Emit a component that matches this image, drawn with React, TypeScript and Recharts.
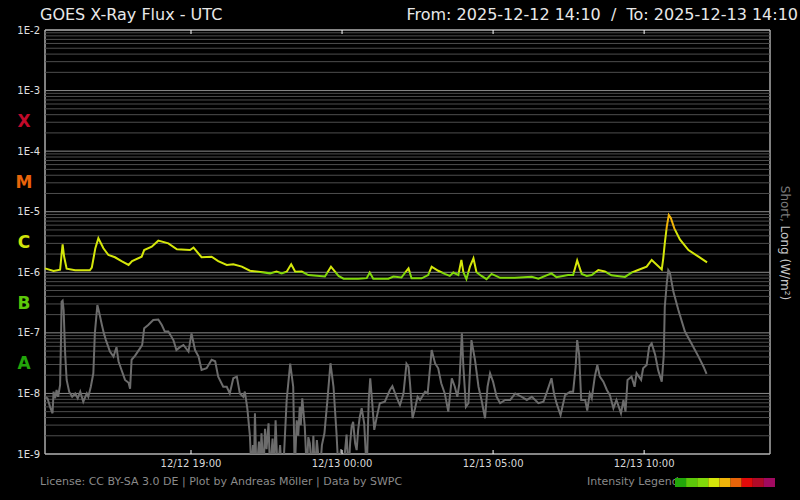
import { LineChart, Line, XAxis, YAxis, ReferenceLine, ReferenceArea } from "recharts";

// minutes after 2025-12-12 14:10 UTC
const longMinutes = [
  0, 17, 30, 33, 35, 38, 43, 60, 89, 93,
  100, 106, 116, 126, 139, 152, 166, 173, 192, 197,
  212, 225, 245, 262, 288, 295, 311, 331, 344, 361,
  374, 391, 407, 424, 447, 460, 470, 480, 489, 497,
  510, 523, 556, 568, 583, 593, 622, 639, 645, 652,
  682, 692, 708, 718, 722, 728, 748, 761, 768, 781,
  794, 804, 811, 821, 827, 831, 837, 844, 851, 857,
  867, 877, 887, 904, 933, 967, 980, 1006, 1016, 1039,
  1049, 1057, 1066, 1076, 1086, 1099, 1112, 1125, 1152, 1165,
  1178, 1195, 1205, 1225, 1228, 1231, 1235, 1239, 1243, 1250,
  1261, 1278, 1298, 1315,
];
const longFlux = [
  1.16e-6, 1.05e-6, 1.1e-6, 2.0e-6, 2.9e-6, 1.8e-6, 1.15e-6, 1.08e-6, 1.08e-6, 1.2e-6,
  2.5e-6, 3.64e-6, 2.49e-6, 1.93e-6, 1.77e-6, 1.53e-6, 1.32e-6, 1.53e-6, 1.81e-6, 2.33e-6,
  2.65e-6, 3.33e-6, 3.0e-6, 2.39e-6, 2.33e-6, 2.55e-6, 1.77e-6, 1.81e-6, 1.53e-6, 1.32e-6,
  1.36e-6, 1.24e-6, 1.06e-6, 1.02e-6, 9.6e-7, 1.03e-6, 9.6e-7, 1.02e-6, 1.36e-6, 1.02e-6,
  1.03e-6, 9.0e-7, 8.5e-7, 1.24e-6, 8.7e-7, 7.85e-7, 7.85e-7, 8.0e-7, 9.9e-7, 7.85e-7,
  7.85e-7, 8.5e-7, 8.2e-7, 1.06e-6, 1.16e-6, 7.95e-7, 7.95e-7, 9.0e-7, 1.24e-6, 1.06e-6,
  9.4e-7, 8.7e-7, 9.9e-7, 9.0e-7, 1.6e-6, 1.0e-6, 7.7e-7, 1.24e-6, 1.7e-6, 1.0e-6,
  8.7e-7, 7.7e-7, 9.4e-7, 8.1e-7, 8.1e-7, 8.4e-7, 7.85e-7, 9.6e-7, 8.3e-7, 9.0e-7,
  9.0e-7, 1.57e-6, 9.4e-7, 8.7e-7, 9.0e-7, 1.09e-6, 1.03e-6, 8.9e-7, 8.4e-7, 9.9e-7,
  1.09e-6, 1.24e-6, 1.6e-6, 1.11e-6, 1.7e-6, 3.0e-6, 5.66e-6, 8.8e-6, 7.9e-6, 5.3e-6,
  3.5e-6, 2.33e-6, 1.81e-6, 1.46e-6,
];

const shortMinutes = [
  0, 5, 10, 15, 17, 20, 23, 26, 30, 32,
  33, 35, 37, 40, 43, 48, 54, 60, 65, 70,
  76, 83, 86, 91, 96, 99, 104, 108, 113, 117,
  121, 129, 136, 142, 146, 152, 159, 166, 169, 172,
  179, 189, 193, 197, 205, 215, 225, 232, 238, 245,
  255, 261, 268, 275, 285, 291, 298, 305, 311, 321,
  331, 338, 344, 354, 361, 367, 374, 381, 387, 394,
  397, 402, 407, 410, 413, 415, 417, 420, 425, 427,
  430, 434, 437, 440, 444, 447, 452, 455, 458, 462,
  467, 470, 473, 480, 487, 493, 496, 500, 503, 506,
  508, 511, 516, 520, 523, 526, 530, 533, 536, 540,
  546, 550, 555, 561, 567, 573, 579, 583, 588, 592,
  599, 603, 606, 609, 612, 616, 619, 622, 625, 629,
  634, 639, 643, 646, 650, 654, 659, 665, 675, 685,
  690,
  698, 705, 712, 718, 722, 725, 730, 735, 740, 745,
  749, 755, 760, 765, 768, 775, 781, 787, 794, 801,
  808, 814, 819, 823, 828, 831, 836, 841, 847, 854,
  861, 867, 874, 879, 884, 890, 897, 904, 914, 924,
  934, 947, 957, 967, 980, 990, 996, 1006, 1011, 1016,
  1024, 1033, 1043, 1049, 1054, 1057, 1061, 1065, 1073, 1077,
  1082, 1086, 1092, 1097, 1102, 1109, 1116, 1122, 1129, 1135,
  1144, 1149, 1153, 1157, 1165, 1171, 1175, 1184, 1188, 1195,
  1200, 1205, 1212, 1218, 1225, 1229, 1231, 1235, 1238, 1241,
  1248, 1258, 1271, 1284, 1298, 1308, 1314,
];
// 5e-10 = below the plot floor
const shortFlux = [
  8.8e-9, 8.3e-9, 6.0e-9, 4.7e-9, 1.07e-8, 8.3e-9, 1.14e-8, 8.8e-9, 1.38e-8, 9.8e-8,
  3.27e-7, 3.4e-7, 2.4e-7, 4.6e-8, 1.67e-8, 1.07e-8, 8.8e-9, 1.0e-8, 8.3e-9, 1.07e-8,
  7.3e-9, 1.0e-8, 8.8e-9, 1.29e-8, 2.15e-8, 9.8e-8, 2.88e-7, 2.1e-7, 1.35e-7, 9.8e-8,
  7.6e-8, 4.9e-8, 4.05e-8, 5.8e-8, 3.4e-8, 2.44e-8, 1.67e-8, 1.5e-8, 1.2e-8, 3.6e-8,
  4.2e-8, 5.6e-8, 6.3e-8, 1.19e-7, 1.35e-7, 1.63e-7, 1.66e-7, 1.35e-7, 1.05e-7, 1.05e-7,
  7.6e-8, 5.2e-8, 5.8e-8, 6.3e-8, 4.9e-8, 9.8e-8, 5.2e-8, 4.05e-8, 2.44e-8, 2.6e-8,
  3.6e-8, 3.4e-8, 1.89e-8, 1.29e-8, 1.29e-8, 1.0e-8, 1.78e-8, 1.89e-8, 1.0e-8, 8.8e-9,
  1.07e-8, 5.5e-9, 2.0e-9, 5e-10, 1.4e-9, 5e-10, 4.7e-9, 5e-10, 1.6e-9, 5e-10,
  2.2e-9, 5e-10, 2.6e-9, 1.2e-9, 3.2e-9, 5e-10, 1.8e-9, 5e-10, 3.6e-9, 5e-10,
  1.4e-9, 5e-10, 5e-10, 7.8e-9, 3.1e-8, 1.29e-8, 5e-10, 3.6e-9, 2.0e-9, 6.0e-9,
  3.0e-9, 8.3e-9, 2.8e-9, 5e-10, 1.9e-9, 1.5e-9, 5e-10, 2.0e-9, 5e-10, 1.7e-9,
  5e-10, 1.4e-9, 2.2e-9, 7.8e-9, 3.15e-8, 1.29e-8, 2.2e-9, 5e-10, 1.2e-9, 5e-10,
  2.1e-9, 5e-10, 1.5e-9, 2.8e-9, 3.4e-9, 1.5e-9, 1.16e-9, 2.5e-9, 4.0e-9, 5.7e-9,
  3.2e-9, 5e-10, 7.8e-9, 1.78e-8, 6.9e-9, 2.5e-9, 4.1e-9, 6.9e-9, 7.3e-9, 1.14e-8,
  1.32e-8,
  8.8e-9, 6.4e-9, 1.0e-8, 3.1e-8, 2.76e-8, 1.47e-8, 3.9e-9, 5.7e-9, 8.8e-9, 7.8e-9,
  8.8e-9, 1.07e-8, 1.0e-8, 2.76e-8, 5.2e-8, 3.1e-8, 2.6e-8, 1.47e-8, 1.0e-8, 5.0e-9,
  1.78e-8, 1.29e-8, 8.8e-9, 1.47e-8, 9.8e-8, 2.76e-8, 6.0e-9, 6.9e-9, 7.6e-8, 3.6e-8,
  1.29e-8, 7.8e-9, 3.9e-9, 1.29e-8, 2.15e-8, 1.56e-8, 8.8e-9, 6.9e-9, 7.8e-9, 7.8e-9,
  1.0e-8, 8.8e-9, 7.8e-9, 8.8e-9, 6.9e-9, 7.3e-9, 1.0e-8, 1.78e-8, 1.0e-8, 6.9e-9,
  4.4e-9, 9.4e-9, 1.07e-8, 1.07e-8, 2.76e-8, 7.6e-8, 4.3e-8, 7.8e-9, 7.8e-9, 5.2e-9,
  1.0e-8, 8.3e-9, 1.89e-8, 2.94e-8, 1.89e-8, 1.56e-8, 1.14e-8, 9.4e-9, 5.7e-9, 7.8e-9,
  4.7e-9, 7.8e-9, 5.0e-9, 1.67e-8, 1.89e-8, 1.29e-8, 2.15e-8, 1.67e-8, 2.6e-8, 2.94e-8,
  5.9e-8, 6.7e-8, 4.3e-8, 2.4e-8, 1.56e-8, 4.3e-8, 2.7e-7, 6.6e-7, 1.09e-6, 1.0e-6,
  4.8e-7, 2.38e-7, 1.05e-7, 6.7e-8, 4.05e-8, 2.76e-8, 2.1e-8,
];

const timeTicks = [290, 590, 890, 1190];
const timeTickLabels = ["12/12 19:00", "12/13 00:00", "12/13 05:00", "12/13 10:00"];

const decadeTicks = [1e-2, 1e-3, 1e-4, 1e-5, 1e-6, 1e-7, 1e-8, 1e-9];
const decadeLabels = ["1E-2", "1E-3", "1E-4", "1E-5", "1E-6", "1E-7", "1E-8", "1E-9"];

const flareClasses = ["X", "M", "C", "B", "A"];
const flareClassMid = [3.162e-4, 3.162e-5, 3.162e-6, 3.162e-7, 3.162e-8];
const flareClassColors = ["#c20a2a", "#e8640a", "#d2e40a", "#5cc80a", "#22a60a"];

const intensityColors = [
  "#22a60a", "#5cc80a", "#80d80a", "#d4e60a", "#f0b40a",
  "#e8640a", "#e00a0a", "#b00a28", "#a00a60",
];

const W = 800;
const H = 500;
const PLOT_TOP = 30;
const PLOT_BOTTOM = 454;
const Y_MIN = 1e-9;
const Y_MAX = 1e-2;
const FONT = "'DejaVu Sans', sans-serif";

const longData = longMinutes.map((t, i) => ({ t, v: longFlux[i] }));
const shortData = shortMinutes.map((t, i) => ({ t, v: shortFlux[i] }));

// horizontal grid: every 1..9 x 10^n
const gridValues: { v: number; major: boolean }[] = [];
for (let e = -9; e <= -3; e++) {
  for (let k = 1; k <= 9; k++) gridValues.push({ v: k * Math.pow(10, e), major: k === 1 });
}
gridValues.push({ v: 1e-2, major: true });

// offset of a flux level inside the plot (0 = top, 1 = bottom)
const frac = (v: number) =>
  (Math.log10(Y_MAX) - Math.log10(v)) / (Math.log10(Y_MAX) - Math.log10(Y_MIN));

const gradStops = [
  { from: 0, to: frac(1e-5), color: "#e8640a" },
  { from: frac(1e-5), to: frac(5e-6), color: "#f0b40a" },
  { from: frac(5e-6), to: frac(1e-6), color: "#d4e60a" },
  { from: frac(1e-6), to: frac(5e-7), color: "#80d80a" },
  { from: frac(5e-7), to: 1, color: "#5cc80a" },
];

function YTick(props: any) {
  const { y, payload } = props;
  const di = decadeTicks.indexOf(payload.value);
  if (di >= 0) {
    return (
      <text x={40} y={y} dy="0.36em" textAnchor="end" fill="#e0e0e0" fontSize={10} fontFamily={FONT}>
        {decadeLabels[di]}
      </text>
    );
  }
  const ci = flareClassMid.indexOf(payload.value);
  return (
    <text x={24} y={y} dy="0.36em" textAnchor="middle" fill={flareClassColors[ci]} fontSize={17} fontWeight="bold" fontFamily={FONT}>
      {flareClasses[ci]}
    </text>
  );
}

function XTick(props: any) {
  const { x, payload } = props;
  const i = timeTicks.indexOf(payload.value);
  return (
    <g>
      <line x1={x} x2={x} y1={PLOT_BOTTOM - 4} y2={PLOT_BOTTOM} stroke="#fff" />
      <line x1={x} x2={x} y1={PLOT_TOP} y2={PLOT_TOP + 4} stroke="#fff" />
      <text x={x} y={PLOT_BOTTOM + 12.5} textAnchor="middle" fill="#d8d8d8" fontSize={10} fontFamily={FONT}>
        {timeTickLabels[i]}
      </text>
    </g>
  );
}

export default function App() {
  return (
    <div style={{ position: "absolute", left: 0, top: 0, width: W, height: H, background: "#000", overflow: "hidden" }}>
      <LineChart width={W} height={H} margin={{ top: PLOT_TOP, right: 30, bottom: 0, left: 0 }}>
        <defs>
          <linearGradient id="longGrad" gradientUnits="userSpaceOnUse" x1={0} y1={PLOT_TOP} x2={0} y2={PLOT_BOTTOM}>
            {gradStops.flatMap((s, i) => [
              <stop key={`a${i}`} offset={s.from} stopColor={s.color} />,
              <stop key={`b${i}`} offset={s.to} stopColor={s.color} />,
            ])}
          </linearGradient>
        </defs>
        <XAxis
          dataKey="t"
          type="number"
          domain={[0, 1440]}
          ticks={timeTicks}
          interval={0}
          height={46}
          axisLine={false}
          tickLine={false}
          tick={<XTick />}
        />
        <YAxis
          scale="log"
          domain={[Y_MIN, Y_MAX]}
          allowDataOverflow
          ticks={[...decadeTicks, ...flareClassMid]}
          interval={0}
          width={45}
          axisLine={false}
          tickLine={false}
          tick={<YTick />}
        />
        {gridValues.map((g) => (
          <ReferenceLine key={g.v} y={g.v} stroke={g.major ? "#8c8c8c" : "#4e4e4e"} strokeWidth={1} />
        ))}
        <ReferenceArea x1={0} x2={1440} y1={Y_MIN} y2={Y_MAX} fill="none" stroke="#ffffff" strokeWidth={1} />
        <Line
          data={shortData}
          dataKey="v"
          type="linear"
          stroke="#6c6c6c"
          strokeWidth={2}
          dot={false}
          isAnimationActive={false}
        />
        <Line
          data={longData}
          dataKey="v"
          type="linear"
          stroke="url(#longGrad)"
          strokeWidth={2}
          dot={false}
          isAnimationActive={false}
        />
      </LineChart>
      <svg width={W} height={H} style={{ position: "absolute", left: 0, top: 0, pointerEvents: "none" }}>
        <text x={40} y={20} fill="#e8e8e8" fontSize={16} fontFamily={FONT}>
          GOES X-Ray Flux - UTC
        </text>
        <text x={798} y={20} textAnchor="end" fill="#e8e8e8" fontSize={16} fontFamily={FONT} style={{ whiteSpace: "pre" }}>
          From: 2025-12-12 14:10  /  To: 2025-12-13 14:10
        </text>
        <text transform="translate(781 243) rotate(90)" textAnchor="middle" fontSize={12} fontFamily={FONT}>
          <tspan fill="#7a7a7a">Short, </tspan>
          <tspan fill="#c8c8c8">Long (W/m²)</tspan>
        </text>
        <text x={40} y={485} fill="#8a8a8a" fontSize={11} fontFamily={FONT}>
          License: CC BY-SA 3.0 DE | Plot by Andreas Möller | Data by SWPC
        </text>
        <text x={587} y={485} fill="#8a8a8a" fontSize={11} fontFamily={FONT}>
          Intensity Legend
        </text>
        {intensityColors.map((c, i) => (
          <rect key={c} x={675 + i * 11.1} y={478} width={11.2} height={9} fill={c} />
        ))}
      </svg>
    </div>
  );
}
